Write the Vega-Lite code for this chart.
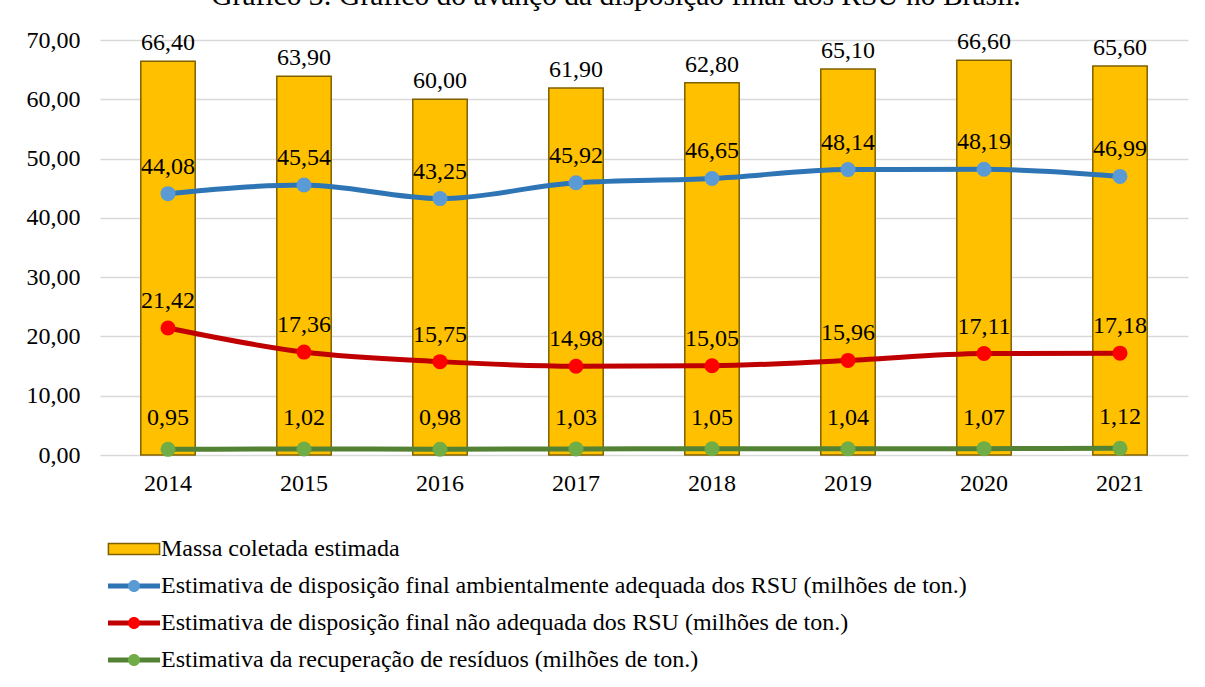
{
  "$schema": "https://vega.github.io/schema/vega-lite/v6.json",
  "autosize": {"type": "none"},
  "width": 1088,
  "height": 415,
  "padding": {"left": 100, "top": 40, "right": 17, "bottom": 232},
  "background": "white",
  "title": {
    "text": "Gráfico 3: Gráfico do avanço da disposição final dos RSU no Brasil.",
    "font": "Liberation Serif",
    "fontSize": 29.5,
    "fontWeight": "normal",
    "color": "#000000",
    "anchor": "middle",
    "baseline": "alphabetic",
    "dx": -28,
    "offset": -6
  },
  "config": {
    "locale": {"number": {"decimal": ",", "thousands": ".", "grouping": [3], "currency": ["R$", ""]}},
    "view": {"stroke": null},
    "axis": {"labelFont": "Liberation Serif", "labelFontSize": 24, "labelColor": "#000000", "title": null}
  },
  "data": {
    "values": [
      {"ano": "2014", "serie": "Massa coletada estimada", "valor": 66.40},
      {"ano": "2015", "serie": "Massa coletada estimada", "valor": 63.90},
      {"ano": "2016", "serie": "Massa coletada estimada", "valor": 60.00},
      {"ano": "2017", "serie": "Massa coletada estimada", "valor": 61.90},
      {"ano": "2018", "serie": "Massa coletada estimada", "valor": 62.80},
      {"ano": "2019", "serie": "Massa coletada estimada", "valor": 65.10},
      {"ano": "2020", "serie": "Massa coletada estimada", "valor": 66.60},
      {"ano": "2021", "serie": "Massa coletada estimada", "valor": 65.60},
      {"ano": "2014", "serie": "Estimativa de disposição final ambientalmente adequada dos RSU (milhões de ton.)", "valor": 44.08},
      {"ano": "2015", "serie": "Estimativa de disposição final ambientalmente adequada dos RSU (milhões de ton.)", "valor": 45.54},
      {"ano": "2016", "serie": "Estimativa de disposição final ambientalmente adequada dos RSU (milhões de ton.)", "valor": 43.25},
      {"ano": "2017", "serie": "Estimativa de disposição final ambientalmente adequada dos RSU (milhões de ton.)", "valor": 45.92},
      {"ano": "2018", "serie": "Estimativa de disposição final ambientalmente adequada dos RSU (milhões de ton.)", "valor": 46.65},
      {"ano": "2019", "serie": "Estimativa de disposição final ambientalmente adequada dos RSU (milhões de ton.)", "valor": 48.14},
      {"ano": "2020", "serie": "Estimativa de disposição final ambientalmente adequada dos RSU (milhões de ton.)", "valor": 48.19},
      {"ano": "2021", "serie": "Estimativa de disposição final ambientalmente adequada dos RSU (milhões de ton.)", "valor": 46.99},
      {"ano": "2014", "serie": "Estimativa de disposição final não adequada dos RSU (milhões de ton.)", "valor": 21.42},
      {"ano": "2015", "serie": "Estimativa de disposição final não adequada dos RSU (milhões de ton.)", "valor": 17.36},
      {"ano": "2016", "serie": "Estimativa de disposição final não adequada dos RSU (milhões de ton.)", "valor": 15.75},
      {"ano": "2017", "serie": "Estimativa de disposição final não adequada dos RSU (milhões de ton.)", "valor": 14.98},
      {"ano": "2018", "serie": "Estimativa de disposição final não adequada dos RSU (milhões de ton.)", "valor": 15.05},
      {"ano": "2019", "serie": "Estimativa de disposição final não adequada dos RSU (milhões de ton.)", "valor": 15.96},
      {"ano": "2020", "serie": "Estimativa de disposição final não adequada dos RSU (milhões de ton.)", "valor": 17.11},
      {"ano": "2021", "serie": "Estimativa de disposição final não adequada dos RSU (milhões de ton.)", "valor": 17.18},
      {"ano": "2014", "serie": "Estimativa da recuperação de resíduos (milhões de ton.)", "valor": 0.95},
      {"ano": "2015", "serie": "Estimativa da recuperação de resíduos (milhões de ton.)", "valor": 1.02},
      {"ano": "2016", "serie": "Estimativa da recuperação de resíduos (milhões de ton.)", "valor": 0.98},
      {"ano": "2017", "serie": "Estimativa da recuperação de resíduos (milhões de ton.)", "valor": 1.03},
      {"ano": "2018", "serie": "Estimativa da recuperação de resíduos (milhões de ton.)", "valor": 1.05},
      {"ano": "2019", "serie": "Estimativa da recuperação de resíduos (milhões de ton.)", "valor": 1.04},
      {"ano": "2020", "serie": "Estimativa da recuperação de resíduos (milhões de ton.)", "valor": 1.07},
      {"ano": "2021", "serie": "Estimativa da recuperação de resíduos (milhões de ton.)", "valor": 1.12}
    ]
  },
  "encoding": {
    "x": {
      "field": "ano",
      "type": "ordinal",
      "scale": {"paddingInner": 0, "paddingOuter": 0},
      "axis": {"labelAngle": 0, "domain": false, "ticks": false, "labelPadding": 16, "grid": false}
    },
    "y": {
      "field": "valor",
      "type": "quantitative",
      "scale": {"domain": [0, 70], "nice": false},
      "axis": {
        "values": [0, 10, 20, 30, 40, 50, 60, 70],
        "format": ".2f",
        "domain": false,
        "ticks": false,
        "labelPadding": 20,
        "grid": true,
        "gridColor": "#d9d9d9",
        "gridWidth": 1.5
      }
    }
  },
  "layer": [
    {
      "transform": [{"filter": "datum.serie === 'Massa coletada estimada'"}],
      "mark": {"type": "bar", "width": {"band": 0.4}, "stroke": "#7F6000", "strokeWidth": 1.5},
      "encoding": {
        "color": {
          "field": "serie",
          "type": "nominal",
          "scale": {"domain": ["Massa coletada estimada"], "range": ["#FFC000"]},
          "legend": {
            "orient": "none",
            "direction": "vertical",
            "legendX": 22,
            "legendY": 497,
            "padding": 0,
            "title": null,
            "zindex": 1,
            "labelFont": "Liberation Serif",
            "labelFontSize": 24,
            "labelColor": "#000000",
            "labelLimit": 0,
            "labelOffset": 15,
            "rowPadding": 13,
            "symbolSize": 256,
            "symbolType": "M-3.2,-0.7H3.2V0.7H-3.2Z",
            "symbolOpacity": 1,
            "symbolStrokeColor": "#7F6000",
            "symbolStrokeWidth": 1.5
          }
        }
      }
    },
    {
      "transform": [{"filter": "datum.serie !== 'Massa coletada estimada'"}],
      "mark": {"type": "line", "interpolate": "monotone", "strokeWidth": 5, "strokeCap": "round"},
      "encoding": {
        "stroke": {
          "field": "serie",
          "type": "nominal",
          "scale": {
            "domain": [
              "Estimativa de disposição final ambientalmente adequada dos RSU (milhões de ton.)",
              "Estimativa de disposição final não adequada dos RSU (milhões de ton.)",
              "Estimativa da recuperação de resíduos (milhões de ton.)"
            ],
            "range": ["#2E75B6", "#C00000", "#548235"]
          },
          "legend": {
            "orient": "none",
            "direction": "vertical",
            "legendX": 22,
            "legendY": 534,
            "padding": 0,
            "title": null,
            "zindex": 1,
            "labelFont": "Liberation Serif",
            "labelFontSize": 24,
            "labelColor": "#000000",
            "labelLimit": 0,
            "labelOffset": 15,
            "rowPadding": 13,
            "symbolSize": 256,
            "symbolType": "M-3.25,0H3.25",
            "symbolStrokeWidth": 5,
            "symbolFillColor": "transparent"
          }
        }
      }
    },
    {
      "transform": [{"filter": "datum.serie !== 'Massa coletada estimada'"}],
      "mark": {"type": "point", "shape": "circle", "filled": true, "size": 225, "opacity": 1},
      "encoding": {
        "fill": {
          "field": "serie",
          "type": "nominal",
          "scale": {
            "domain": [
              "Massa coletada estimada",
              "Estimativa de disposição final ambientalmente adequada dos RSU (milhões de ton.)",
              "Estimativa de disposição final não adequada dos RSU (milhões de ton.)",
              "Estimativa da recuperação de resíduos (milhões de ton.)"
            ],
            "range": ["transparent", "#5B9BD5", "#FF0000", "#70AD47"]
          },
          "legend": {
            "orient": "none",
            "direction": "vertical",
            "legendX": 22,
            "legendY": 497,
            "padding": 0,
            "title": null,
            "zindex": 3,
            "labelFont": "Liberation Serif",
            "labelFontSize": 24,
            "labelColor": "transparent",
            "labelLimit": 0,
            "labelOffset": 15,
            "rowPadding": 13,
            "symbolSize": 256,
            "symbolType": "M-0.75,0A0.75,0.75 0 1,0 0.75,0A0.75,0.75 0 1,0 -0.75,0Z",
            "symbolOpacity": 1,
            "symbolStrokeWidth": 0
          }
        }
      }
    },
    {
      "transform": [{"filter": "datum.serie === 'Massa coletada estimada'"}],
      "mark": {"type": "text", "baseline": "alphabetic", "dy": -11, "font": "Liberation Serif", "fontSize": 24, "color": "#000000"},
      "encoding": {"text": {"field": "valor", "type": "quantitative", "format": ".2f"}}
    },
    {
      "transform": [{"filter": "datum.serie !== 'Massa coletada estimada' && datum.serie !== 'Estimativa da recuperação de resíduos (milhões de ton.)'"}],
      "mark": {"type": "text", "baseline": "alphabetic", "dy": -20, "font": "Liberation Serif", "fontSize": 24, "color": "#000000"},
      "encoding": {"text": {"field": "valor", "type": "quantitative", "format": ".2f"}}
    },
    {
      "transform": [{"filter": "datum.serie === 'Estimativa da recuperação de resíduos (milhões de ton.)'"}],
      "mark": {"type": "text", "baseline": "alphabetic", "dy": -24, "font": "Liberation Serif", "fontSize": 24, "color": "#000000"},
      "encoding": {"text": {"field": "valor", "type": "quantitative", "format": ".2f"}}
    }
  ]
}
